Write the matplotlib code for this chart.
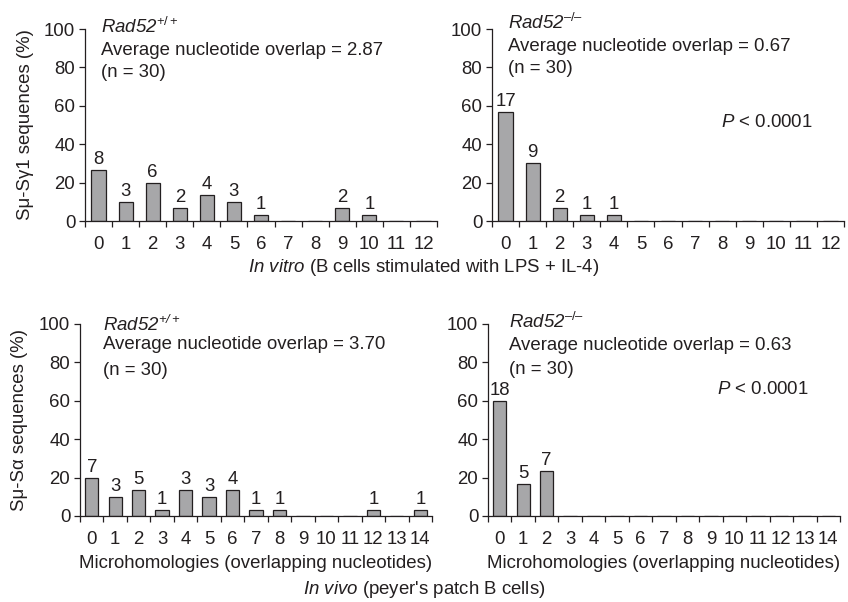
import matplotlib
matplotlib.use("Agg")
import matplotlib.pyplot as plt
import numpy as np

plt.rcParams['font.family'] = ['Liberation Sans', 'DejaVu Sans']
plt.rcParams['mathtext.fontset'] = 'custom'
plt.rcParams['mathtext.rm'] = 'Liberation Sans'
plt.rcParams['mathtext.it'] = 'Liberation Sans:italic'
plt.rcParams['mathtext.sf'] = 'Liberation Sans:italic'

FS = 13.4

# bar labels: number of sequences per count of overlapping nucleotides
vitro_wt_n = [8, 3, 6, 2, 4, 3, 1, 0, 0, 2, 1, 0, 0]
vitro_ko_n = [17, 9, 2, 1, 1, 0, 0, 0, 0, 0, 0, 0, 0]
vivo_wt_n = [7, 3, 5, 1, 3, 3, 4, 1, 1, 0, 0, 0, 1, 0, 1]
vivo_ko_n = [18, 5, 7, 0, 0, 0, 0, 0, 0, 0, 0, 0, 0, 0, 0]

# bar heights (% of sequences) as drawn
vitro_wt_pct = [26.7, 10.0, 20.0, 6.7, 13.3, 10.0, 3.3, 0, 0, 6.7, 3.3, 0, 0]
vitro_ko_pct = [56.7, 30.0, 6.7, 3.3, 3.3, 0, 0, 0, 0, 0, 0, 0, 0]
vivo_wt_pct = [20.0, 10.0, 13.3, 3.3, 13.3, 10.0, 13.3, 3.3, 3.3, 0, 0, 0, 3.3, 0, 3.3]
vivo_ko_pct = [60.0, 16.7, 23.3, 0, 0, 0, 0, 0, 0, 0, 0, 0, 0, 0, 0]

avg_vitro_wt = "2.87"
avg_vitro_ko = "0.67"
avg_vivo_wt = "3.70"
avg_vivo_ko = "0.63"

ink = "#231f20"
bar_col = "#a7a7a9"

fig = plt.figure(figsize=(8.48, 6.02), dpi=100)

W = 352 / 848
H = 192 / 602


def panel(rect, counts, pct, width, geno, avg, pos, pval=None):
    ax = fig.add_axes(rect)
    x = np.arange(len(counts))
    ax.bar(x, pct, width=width, color=bar_col, edgecolor=ink, linewidth=0.9)
    for xi, c, p in zip(x, counts, pct):
        if c > 0:
            ax.annotate(str(c), (xi, p), xytext=(0, 1.5), textcoords="offset points",
                        ha="center", va="bottom", color=ink, fontsize=FS)
    ax.set_xlim(-0.5, len(counts) - 0.5)
    ax.set_ylim(0, 100)
    ax.set_yticks([0, 20, 40, 60, 80, 100])
    ax.set_xticks(x)
    ax.set_xticks(np.arange(len(counts) + 1) - 0.5, minor=True)
    ax.tick_params(axis="x", which="major", length=0, pad=11, colors=ink, labelsize=FS)
    ax.tick_params(axis="x", which="minor", length=4, width=0.9, direction="out", color=ink)
    ax.tick_params(axis="y", length=4, width=0.9, direction="out", colors=ink, labelsize=FS, pad=3)
    for s in ["top", "right"]:
        ax.spines[s].set_visible(False)
    for s in ["left", "bottom"]:
        ax.spines[s].set_color(ink)
        ax.spines[s].set_linewidth(0.9)
    tx, ys = pos
    ax.text(tx, ys[0], r"$\mathsf{Rad52}^{" + geno + "}$", transform=ax.transAxes,
            ha="left", va="baseline", color=ink, fontsize=FS)
    ax.text(tx, ys[1], "Average nucleotide overlap = " + avg, transform=ax.transAxes,
            ha="left", va="baseline", color=ink, fontsize=FS)
    ax.text(tx, ys[2], "(n = 30)", transform=ax.transAxes,
            ha="left", va="baseline", color=ink, fontsize=FS)
    if pval is not None:
        ax.text(0.65, pval, r"$\mathsf{P}$ < 0.0001", transform=ax.transAxes,
                ha="left", va="baseline", color=ink, fontsize=FS)
    return ax


ax1 = panel([85 / 848, 381 / 602, W, H], vitro_wt_n, vitro_wt_pct, 0.52, "+/+",
            avg_vitro_wt, (0.045, [0.98, 0.865, 0.75]))
ax2 = panel([492 / 848, 381 / 602, W, H], vitro_ko_n, vitro_ko_pct, 0.52, "\u2013/\u2013",
            avg_vitro_ko, (0.045, [1.0, 0.885, 0.77]), pval=0.49)
ax3 = panel([80 / 848, 86 / 602, W, H], vivo_wt_n, vivo_wt_pct, 0.57, r"\mathsf{+/+}",
            avg_vivo_wt, (0.065, [0.965, 0.87, 0.735]))
ax4 = panel([488 / 848, 86 / 602, W, H], vivo_ko_n, vivo_ko_pct, 0.57, "\u2013/\u2013",
            avg_vivo_ko, (0.06, [0.98, 0.865, 0.74]), pval=0.635)

ax1.set_ylabel("S\u03bc-S\u03b31 sequences (%)", color=ink, fontsize=FS)
ax1.yaxis.set_label_coords(-0.145, 0.5)
ax3.set_ylabel("S\u03bc-S\u03b1 sequences (%)", color=ink, fontsize=FS)
ax3.yaxis.set_label_coords(-0.148, 0.5)
ax3.set_xlabel("Microhomologies (overlapping nucleotides)", color=ink, fontsize=FS, labelpad=5)
ax4.set_xlabel("Microhomologies (overlapping nucleotides)", color=ink, fontsize=FS, labelpad=5)

fig.text(0.5, 1 - 267 / 602, r"$\mathsf{In\ vitro}$ (B cells stimulated with LPS + IL-4)",
         ha="center", va="center", color=ink, fontsize=FS)
fig.text(0.5, 1 - 589 / 602, r"$\mathsf{In\ vivo}$ (peyer's patch B cells)",
         ha="center", va="center", color=ink, fontsize=FS)

fig.savefig("out.png", dpi=100)
